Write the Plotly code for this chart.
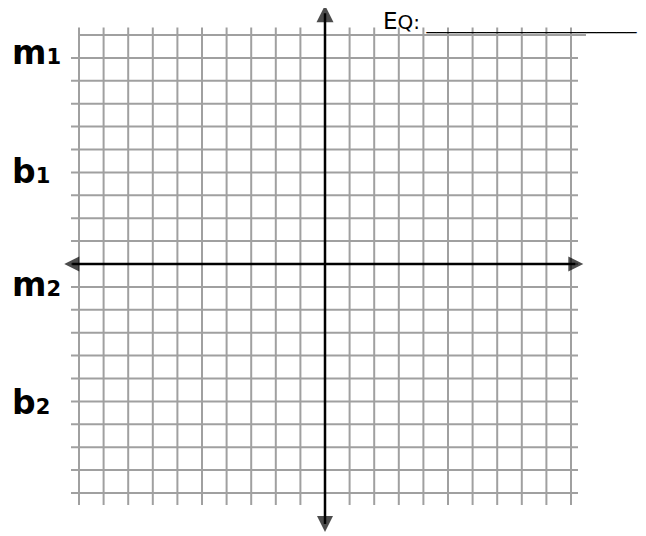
import plotly.graph_objects as go

# 20 x 20 graph-paper grid, one unit per square
grid_x = list(range(-10, 11))
grid_y = list(range(-10, 11))

# where the arrow tips of the two axes sit (grid units)
axis_x_tips = [-10.6, 10.5]
axis_y_tips = [-11.7, 11.3]

# worksheet labels down the left side
label_letters = ["m", "b", "m", "b"]
label_subs = ["1", "1", "2", "2"]

eq_label = "E"
eq_label_small = "Q:"

# the page body has an 8px margin, so the figure is drawn 8px in
PAGE_W, PAGE_H = 646, 536
OFF = 8
W, H = PAGE_W - OFF, PAGE_H - OFF

# pixel anchors of the grid (page pixels, shifted into figure pixels)
PX_LEFT, PX_RIGHT = 79 - OFF, 571 - OFF
PY_TOP, PY_BOTTOM = 35 - OFF, 493 - OFF
ux = (PX_RIGHT - PX_LEFT) / (grid_x[-1] - grid_x[0])
uy = (PY_BOTTOM - PY_TOP) / (grid_y[-1] - grid_y[0])
x0_px = PX_LEFT - grid_x[0] * ux
y0_px = PY_TOP + grid_y[-1] * uy

grid_color = "#a0a0a0"

fig = go.Figure()

# vertical grid lines (poke out a little above and below)
vx, vy = [], []
for gx in grid_x:
    vx += [gx, gx, None]
    vy += [grid_y[-1] + 7.5 / uy, grid_y[0] - 12 / uy, None]

# horizontal grid lines (top one runs on to the right)
hx, hy = [], []
for gy in grid_y:
    if gy == grid_y[-1]:
        hx += [grid_x[0], grid_x[-1] + 15 / ux, None]
    else:
        hx += [grid_x[0] - 8 / ux, grid_x[-1] + 7 / ux, None]
    hy += [gy, gy, None]

fig.add_trace(go.Scatter(x=vx, y=vy, mode="lines",
                         line=dict(color=grid_color, width=2), hoverinfo="skip"))
fig.add_trace(go.Scatter(x=hx, y=hy, mode="lines",
                         line=dict(color=grid_color, width=2), hoverinfo="skip"))

# axes with arrowheads
arrow = 16
fig.add_trace(go.Scatter(
    x=[axis_x_tips[0] + arrow * 0.5 / ux, axis_x_tips[1] - arrow * 0.5 / ux],
    y=[0, 0], mode="lines", line=dict(color="black", width=2.5), hoverinfo="skip"))
fig.add_trace(go.Scatter(
    x=[0, 0],
    y=[axis_y_tips[0] + arrow * 0.5 / uy, axis_y_tips[1] - arrow * 0.5 / uy],
    mode="lines", line=dict(color="black", width=2.5), hoverinfo="skip"))
fig.add_trace(go.Scatter(
    x=[axis_x_tips[0], axis_x_tips[1], 0, 0],
    y=[0, 0, axis_y_tips[0], axis_y_tips[1]],
    mode="markers",
    marker=dict(symbol=["arrow-left", "arrow-right", "arrow-down", "arrow-up"],
                size=[15, 15, 16, 17], color="black", line=dict(width=0)),
    hoverinfo="skip"))

# left-hand labels, baselines in page pixels
label_baselines = [63, 182, 295, 413]
for letter, sub, base in zip(label_letters, label_subs, label_baselines):
    fig.add_annotation(
        text=f"<b>{letter}<span style='font-size:21px'>{sub}</span></b>",
        xref="paper", yref="paper",
        x=(10 - OFF) / W, y=1 - (base - 11 - OFF) / H,
        xanchor="left", yanchor="middle",
        showarrow=False,
        font=dict(family="DejaVu Sans", size=33, color="black"),
    )

# equation blank at the top right
fig.add_annotation(
    text=f"{eq_label}<span style='font-size:20px'>{eq_label_small} " + "_" * 21 + "</span>",
    xref="paper", yref="paper",
    x=(381 - OFF) / W, y=1 - (21 - OFF) / H,
    xanchor="left", yanchor="middle",
    showarrow=False,
    font=dict(family="DejaVu Sans", size=23, color="black"),
)

fig.update_xaxes(visible=False, range=[-x0_px / ux, (W - x0_px) / ux], fixedrange=True)
fig.update_yaxes(visible=False, range=[(y0_px - H) / uy, y0_px / uy], fixedrange=True)

fig.update_layout(
    width=W, height=H,
    margin=dict(l=0, r=0, t=0, b=0),
    showlegend=False,
    plot_bgcolor="white",
    paper_bgcolor="white",
)

fig.write_html("out.html", config={"displayModeBar": False})
